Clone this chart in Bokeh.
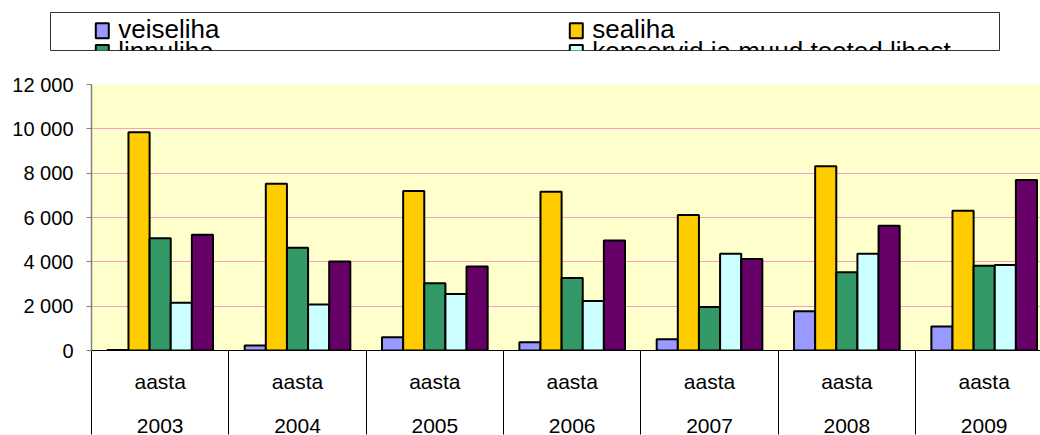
from bokeh.plotting import figure
from bokeh.models import Range1d, FixedTicker, LinearAxis, ColumnDataSource, Grid
from bokeh.layouts import column
from bokeh.core.properties import value
from bokeh.embed import file_html
from bokeh.resources import INLINE

# ---------------- data ----------------
years = ["2003", "2004", "2005", "2006", "2007", "2008", "2009"]
cat_word = "aasta"
series = ["veiseliha", "sealiha", "linnuliha", "konservid ja muud tooted lihast", "muu liha"]
colors = ["#9999FF", "#FFCC00", "#339966", "#CCFFFF", "#660066"]
veiseliha = [20, 230, 600, 375, 510, 1770, 1080]
sealiha = [9850, 7520, 7200, 7160, 6110, 8310, 6310]
linnuliha = [5060, 4640, 3030, 3270, 1960, 3530, 3820]
konservid = [2150, 2080, 2550, 2230, 4360, 4360, 3860]
muu_liha = [5220, 4010, 3790, 4960, 4130, 5630, 7690]
y_ticks = [0, 2000, 4000, 6000, 8000, 10000, 12000]
y_labels = ["0", "2 000", "4 000", "6 000", "8 000", "10 000", "12 000"]

values_list = [veiseliha, sealiha, linnuliha, konservid, muu_liha]
FONT = "Liberation Sans"

# ---------------- main chart ----------------
n = len(years)
nser = len(series)
gap = 1.5
slot = 1.0 / (nser + gap)
centers = [i + 0.5 for i in range(n)]
bounds = [float(i) for i in range(n + 1)]

p = figure(width=1040, height=384,
           x_range=Range1d(0, 6.91), y_range=Range1d(0, 12000),
           output_backend="svg", toolbar_location=None,
           x_axis_location=None, y_axis_location=None,
           min_border_left=91, min_border_right=0,
           min_border_top=33, min_border_bottom=84,
           background_fill_color="#FFFFCC", border_fill_color="white",
           outline_line_color=None, frame_align=False)
for g in p.grid:
    g.visible = False

p.add_layout(Grid(dimension=1, ticker=FixedTicker(ticks=y_ticks),
                  grid_line_color="#FF99CC", grid_line_width=1))

for j, (name, vals, col) in enumerate(zip(series, values_list, colors)):
    xs = [i + slot * gap / 2 + slot * (j + 0.5) for i in range(n)]
    src = ColumnDataSource(dict(x=xs, top=vals))
    p.vbar(x="x", top="top", bottom=0, width=slot, source=src,
           fill_color=col, line_color="black", line_width=2)

yaxis = LinearAxis(ticker=FixedTicker(ticks=y_ticks),
                   major_label_overrides=dict(zip(y_ticks, y_labels)),
                   axis_line_color="#808080", axis_line_width=1.5,
                   major_tick_line_color="#808080", major_tick_out=5, major_tick_in=0,
                   minor_tick_line_color=None, major_label_standoff=13,
                   major_label_text_font=FONT, major_label_text_font_size="20px",
                   major_label_text_color="black")
p.add_layout(yaxis, "left")

xaxis1 = LinearAxis(ticker=FixedTicker(ticks=centers, minor_ticks=bounds),
                    major_label_overrides={c: cat_word for c in centers},
                    axis_line_color="black", axis_line_width=1,
                    major_tick_line_color=None, major_tick_out=0, major_tick_in=0,
                    minor_tick_line_color="black", minor_tick_out=84, minor_tick_in=0,
                    major_label_standoff=-65,
                    major_label_text_font=FONT, major_label_text_font_size="21px",
                    major_label_text_color="black")
p.add_layout(xaxis1, "below")

xaxis2 = LinearAxis(ticker=FixedTicker(ticks=centers),
                    major_label_overrides=dict(zip(centers, years)),
                    axis_line_color=None, major_tick_line_color=None,
                    major_tick_out=0, major_tick_in=0, minor_tick_line_color=None,
                    major_label_standoff=23,
                    major_label_text_font=FONT, major_label_text_font_size="21px",
                    major_label_text_color="black")
p.add_layout(xaxis2, "below")

# ---------------- legend box (clipped like the original) ----------------
lg = figure(width=1040, height=51,
            x_range=Range1d(0, 949), y_range=Range1d(38, 0),
            output_backend="svg", toolbar_location=None,
            x_axis_location=None, y_axis_location=None,
            min_border_left=50, min_border_right=41,
            min_border_top=12, min_border_bottom=1,
            outline_line_color="#333333", outline_line_width=1,
            background_fill_color="white", border_fill_color="white",
            frame_align=False)
for g in lg.grid:
    g.visible = False

shown = 4  # items whose row is (at least partly) visible in the box
col_x = [44.3, 518.3]
row_y = [9.7, 31.5]
lx, ly, lt, lc = [], [], [], []
for k, (name, col) in enumerate(zip(series[:shown], colors[:shown])):
    lx.append(col_x[k % 2])
    ly.append(row_y[k // 2])
    lt.append(name)
    lc.append(col)
leg_src = ColumnDataSource(dict(
    sx=[x + 7.5 for x in lx], sy=[y + 8.5 for y in ly],
    tx=[x + 23.4 for x in lx], ty=[y + 7.0 for y in ly],
    name=lt, color=lc))
lg.rect(x="sx", y="sy", width=13, height=15, source=leg_src,
        fill_color="color", line_color="black", line_width=2)
lg.text(x="tx", y="ty", text="name", source=leg_src,
        text_font=value(FONT), text_font_size="26px", text_color="black",
        text_baseline="alphabetic", text_align="left")

layout = column(lg, p)
open("out.html", "w").write(file_html(layout, INLINE))
